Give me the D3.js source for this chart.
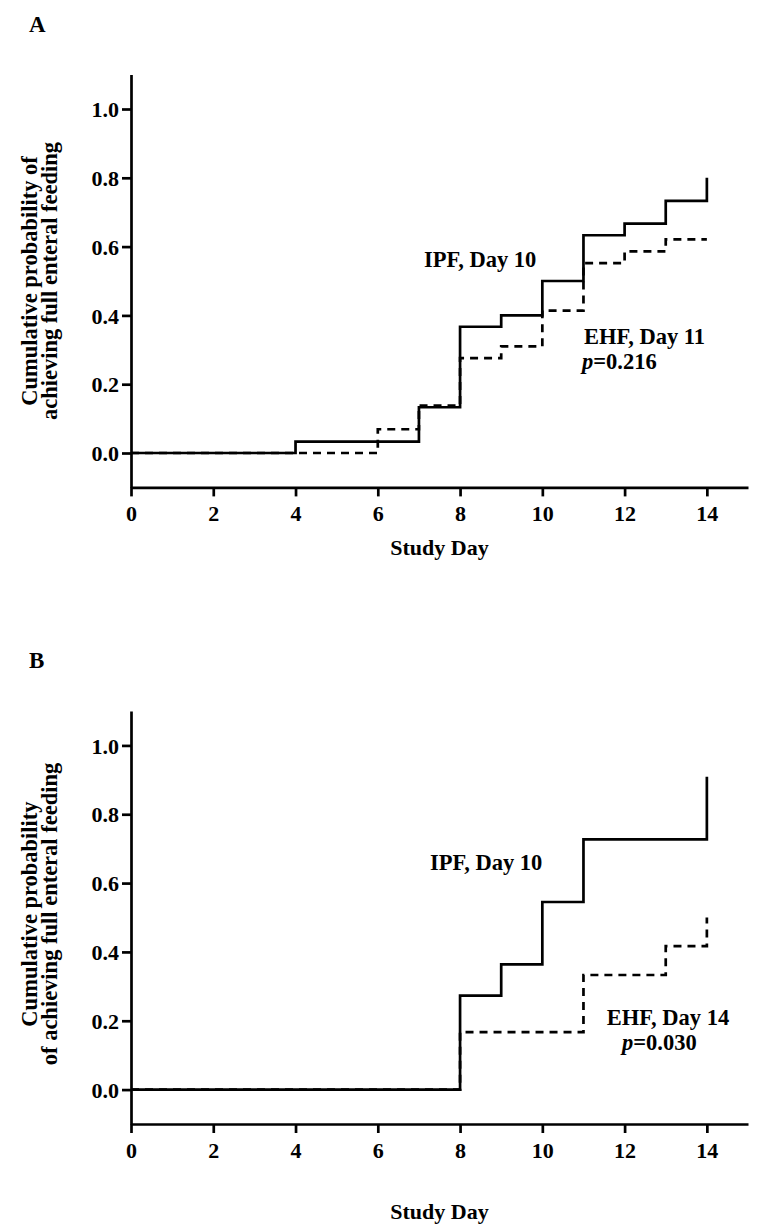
<!DOCTYPE html>
<html><head><meta charset="utf-8">
<script src="https://cdn.jsdelivr.net/npm/d3@7"></script>
<style>
body{margin:0;background:#fff;}
text{font-family:"Liberation Serif","Times New Roman",serif;font-weight:bold;fill:#000;}
</style></head>
<body>
<svg id="chart" width="767" height="1229"></svg>
<script>
// ---- data ----
const xTicks = [0, 2, 4, 6, 8, 10, 12, 14];
const yTicks = [0.0, 0.2, 0.4, 0.6, 0.8, 1.0];

// Panel A
const ipfDaysA = [0, 4, 7, 8, 9, 10, 11, 12, 13, 14];
const ipfProbA = [0, 0.033, 0.133, 0.367, 0.400, 0.500, 0.633, 0.667, 0.733, 0.800];
const ehfDaysA = [0, 6, 7, 8, 9, 10, 11, 12, 13, 14];
const ehfProbA = [0, 0.069, 0.138, 0.276, 0.310, 0.414, 0.552, 0.586, 0.621, 0.621];

// Panel B
const ipfDaysB = [0, 8, 9, 10, 11, 14];
const ipfProbB = [0, 0.273, 0.364, 0.545, 0.727, 0.909];
const ehfDaysB = [0, 8, 11, 13, 14];
const ehfProbB = [0, 0.167, 0.333, 0.417, 0.500];

const panels = [
  {letter: "A", top: 74.6, bottom: 487.4, letterY: 32,
   ylab: ["Cumulative probability of", "achieving full enteral feeding"], ylabY: 281,
   xlabY: 555,
   ipf: [ipfDaysA, ipfProbA], ehf: [ehfDaysA, ehfProbA],
   notes: [
     {t: "IPF, Day 10", x: 424, y: 267, anchor: "start"},
     {t: "EHF, Day 11", x: 584, y: 344, anchor: "start"},
     {t: "=0.216", p: true, x: 582, y: 369, anchor: "start"}
   ]},
  {letter: "B", top: 711, bottom: 1124, letterY: 668,
   ylab: ["Cumulative probability", "of achieving full enteral feeding"], ylabY: 914,
   xlabY: 1219,
   ipf: [ipfDaysB, ipfProbB], ehf: [ehfDaysB, ehfProbB],
   notes: [
     {t: "IPF, Day 10", x: 430, y: 870, anchor: "start"},
     {t: "EHF, Day 14", x: 668, y: 1025, anchor: "middle"},
     {t: "=0.030", p: true, x: 622, y: 1050, anchor: "start"}
   ]}
];

const svg = d3.select("#chart");
const left = 131, right = 748;
const x = d3.scaleLinear().domain([0, 15]).range([left, right]);

panels.forEach(P => {
  const y = d3.scaleLinear().domain([-0.1, 1.1]).range([P.bottom, P.top]);
  const g = svg.append("g");

  // axes
  const xa = g.append("g").attr("transform", `translate(0,${P.bottom})`)
    .call(d3.axisBottom(x).tickValues(xTicks).tickSize(9).tickSizeOuter(0).tickPadding(10).tickFormat(d3.format("d")));
  const ya = g.append("g").attr("transform", `translate(${left},0)`)
    .call(d3.axisLeft(y).tickValues(yTicks).tickSize(9).tickSizeOuter(0).tickPadding(3).tickFormat(d3.format(".1f")));
  [xa, ya].forEach(a => {
    a.select(".domain").attr("stroke", "#000").attr("stroke-width", 2.7);
    a.selectAll(".tick line").attr("stroke", "#000").attr("stroke-width", 2.7);
    a.selectAll(".tick text").style("font-family", "'Liberation Serif',serif")
      .style("font-weight", "bold").style("font-size", "22px").attr("fill", "#000");
  });
  xa.selectAll(".tick text").attr("dy", null).attr("y", 0)
    .attr("transform", "translate(0,34)");
  ya.selectAll(".tick text").attr("dy", "0.35em");

  // step curves
  const line = d3.line().curve(d3.curveStepAfter).x(d => x(d[0])).y(d => y(d[1]));
  const toPts = arr => arr[0].map((d, i) => [d, arr[1][i]]);
  g.append("path").datum(toPts(P.ipf)).attr("d", line)
    .attr("fill", "none").attr("stroke", "#000").attr("stroke-width", 2.7);
  g.append("path").datum(toPts(P.ehf)).attr("d", line)
    .attr("fill", "none").attr("stroke", "#000").attr("stroke-width", 2.7)
    .attr("stroke-dasharray", "8,6");

  // panel letter
  g.append("text").attr("x", 29).attr("y", P.letterY).style("font-size", "23px").text(P.letter);

  // y label
  const yl = g.append("text").attr("transform", `translate(37,${P.ylabY}) rotate(-90)`)
    .attr("text-anchor", "middle").style("font-size", "22.5px");
  yl.append("tspan").attr("x", 0).attr("y", 0).text(P.ylab[0]);
  yl.append("tspan").attr("x", 0).attr("y", 20).text(P.ylab[1]);

  // x label
  g.append("text").attr("x", (left + right) / 2).attr("y", P.xlabY)
    .attr("text-anchor", "middle").style("font-size", "22px").text("Study Day");

  // notes
  P.notes.forEach(n => {
    const t = g.append("text").attr("x", n.x).attr("y", n.y).attr("text-anchor", n.anchor)
      .style("font-size", "22.5px");
    if (n.p) {
      t.append("tspan").style("font-style", "italic").text("p");
      t.append("tspan").text(n.t);
    } else t.text(n.t);
  });
});
</script>
</body></html>
